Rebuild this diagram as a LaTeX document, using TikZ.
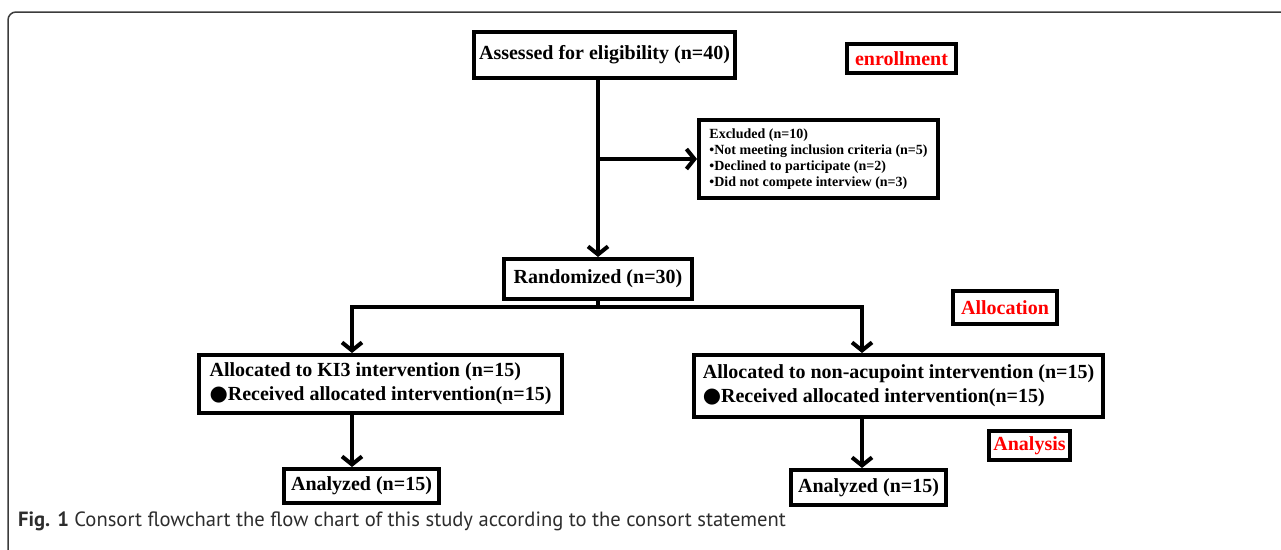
\documentclass[tikz,border=0pt]{standalone}
\usepackage{fontspec}
\setmainfont{Liberation Serif}
\newfontfamily\capfont{PT Sans}
\newfontfamily\dotfont{DejaVu Sans}
\usetikzlibrary{arrows.meta}
\definecolor{framegray}{RGB}{60,60,60}
\definecolor{capgray}{RGB}{45,45,45}
\newcommand{\BigDot}{{\dotfont\fontsize{21}{24}\selectfont ●}}
\tikzset{
  box/.style={draw, line width=4pt, fill=white, inner sep=2pt,
    font=\fontsize{20}{24}\selectfont\bfseries},
  redbox/.style={box, text=red},
  listbox/.style={box, align=left, font=\fontsize{14}{16}\selectfont\bfseries},
  link/.style={line width=4pt},
  flow/.style={link, -{Straight Barb[length=8pt,width=20pt]}},
}

\begin{document}
\begin{tikzpicture}[x=1pt, y=-1pt]
\useasboundingbox (0,0) rectangle (1281,549);
\draw[framegray, line width=1.5pt, rounded corners=8pt] (8,560) -- (8,12) -- (1290,12);

% enrollment
\node[box, minimum width=261, minimum height=46] (assess) at (604.5,55) {Assessed for eligibility (n=40)};
\node[redbox, minimum width=109, minimum height=29] (enroll) at (901.5,58.5) {enrollment};
\node[listbox, minimum width=239, minimum height=78] (excl) at (818.5,159)
  {Excluded (n=10)\\\textbullet Not meeting inclusion criteria (n=5)\\\textbullet Declined to participate (n=2)\\\textbullet Did not compete interview (n=3)};
\node[box, minimum width=188, minimum height=40] (rand) at (598,279) {Randomized (n=30)};

% allocation
\node[redbox, minimum width=104, minimum height=33] (alloc) at (1005,307.5) {Allocation};
\node[box, align=left, minimum width=363, minimum height=58] (leftalloc) at (380.5,384)
  {Allocated to KI3 intervention (n=15)\\\BigDot Received allocated intervention(n=15)};
\node[box, align=left, minimum width=409, minimum height=62] (rightalloc) at (898.5,386)
  {Allocated to non-acupoint intervention (n=15)\\\BigDot Received allocated intervention(n=15)};

% analysis
\node[redbox, minimum width=81, minimum height=29] (analysis) at (1029.5,445.5) {Analysis};
\node[box, minimum width=155, minimum height=34] (leftana) at (361.5,486) {Analyzed (n=15)};
\node[box, minimum width=155, minimum height=35] (rightana) at (868.5,487.5) {Analyzed (n=15)};

\coordinate (forkL) at (352,307);
\coordinate (forkM) at (598,307);
\coordinate (forkR) at (862,307);

\draw[flow] (assess.south -| rand.north) -- (rand.north);
\draw[flow] (rand.north |- excl.west) -- (excl.west);
\draw[link] (rand.south) -- (forkM);
\draw[link, {Straight Barb[length=8pt,width=20pt]}-{Straight Barb[length=8pt,width=20pt]}]
  (forkL |- leftalloc.north) -- (forkL) -- (forkR) -- (forkR |- rightalloc.north);
\draw[flow] (leftalloc.south -| forkL) -- (leftana.north -| forkL);
\draw[flow] (rightalloc.south -| forkR) -- (rightana.north -| forkR);

\node[anchor=west, text=capgray, font=\capfont\fontsize{20.6}{24}\selectfont, inner sep=0pt] (caption) at (18,521)
  {\textbf{Fig. 1} Consort flowchart the flow chart of this study according to the consort statement};
\end{tikzpicture}
\end{document}
